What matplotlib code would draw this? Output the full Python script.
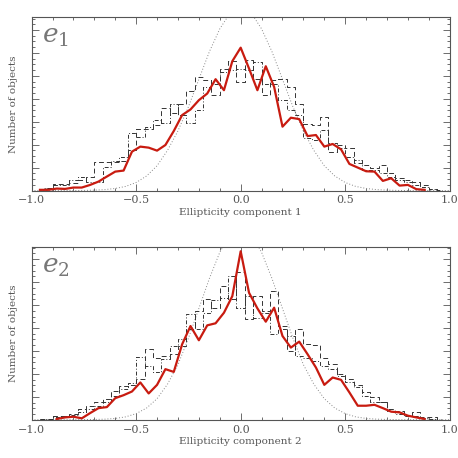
import numpy as np
import matplotlib
matplotlib.use("Agg")
import matplotlib.pyplot as plt
from matplotlib.ticker import MultipleLocator, NullFormatter

# bin centres of the histograms (step 0.04)
hist_x = [round(-0.96 + 0.04 * i, 2) for i in range(49)]

# ---- panel 1 : e1 ----
e1_dash = [1.2, 2.6, 5.5, 5.5, 7.0, 9.3, 12.2, 24.6, 24.6, 24.6, 25.8, 35.4, 53.3,
           53.3, 57.1, 71.6, 67.2, 75.9, 87.0, 99.1, 96.2, 83.2, 106.4, 112.8, 94.8,
           113.6, 97.7, 83.2, 96.2, 97.7, 90.4, 75.9, 58.0, 57.1, 63.8, 33.9, 39.7,
           36.8, 23.8, 22.3, 19.4, 22.3, 15.1, 10.7, 9.3, 7.8, 4.9, 1.2, 0.3]
e1_dashdot = [0.9, 2.6, 4.9, 4.9, 9.3, 12.2, 7.8, 7.8, 20.9, 25.8, 29.6, 49.9, 47.0,
              55.7, 61.4, 58.6, 75.9, 65.8, 58.6, 70.1, 90.4, 93.3, 103.5, 104.9, 106.4,
              104.9, 112.2, 93.3, 93.3, 78.8, 70.1, 65.8, 45.5, 44.1, 52.8, 41.2, 36.8,
              29.6, 26.7, 18.0, 18.0, 15.1, 12.2, 9.3, 7.8, 4.9, 2.9, 1.2, 0.3]
line_x = [round(-0.96 + 0.04 * i, 2) for i in range(47)]
e1_red = [0.6, 0.6, 1.7, 1.4, 2.6, 2.6, 4.9, 7.8, 12.2, 16.5, 17.4, 33.9, 38.3, 37.4,
          34.8, 39.7, 51.9, 65.8, 70.7, 78.8, 84.6, 97.1, 87.5, 112.8, 124.6, 106.4,
          87.5, 108.4, 90.4, 55.7, 63.5, 62.3, 47.5, 48.4, 38.3, 40.6, 35.9, 23.2, 20.0,
          16.8, 16.5, 8.4, 10.7, 4.3, 4.9, 1.2, 0.6]

# dotted reference curve, read every 0.05
ref_x = [round(-1.0 + 0.05 * i, 2) for i in range(41)]
e1_ref = [0.0, 0.0, 0.0, 0.0, 0.0, 0.1, 0.35, 0.8, 1.8, 3.6, 7.0, 12.7, 21.6, 35, 52,
          73, 97, 121, 141, 155, 160, 155, 141, 121, 97, 73, 52, 35, 21.6, 12.7, 7.0,
          3.6, 1.8, 0.8, 0.35, 0.1, 0.0, 0.0, 0.0, 0.0, 0.0]

# ---- panel 2 : e2 ----
e2_dash = [0.3, 0.6, 3.5, 3.5, 4.9, 9.3, 11.6, 15.1, 18.0, 25.2, 29.6, 30.1, 35.4,
           62.0, 54.2, 55.7, 57.1, 64.3, 78.8, 94.8, 105.5, 97.7, 116.5, 104.9, 128.7,
           87.5, 107.8, 94.8, 112.2, 81.7, 60.0, 78.8, 65.8, 64.9, 54.2, 48.4, 39.7,
           35.4, 30.1, 23.8, 19.4, 15.1, 9.3, 7.8, 3.5, 6.4, 2.0, 2.0, 0.3]
e2_dashdot = [0.3, 0.3, 2.0, 2.9, 4.1, 6.4, 9.3, 12.2, 15.1, 20.9, 26.7, 31.9, 54.8,
              47.0, 41.2, 52.8, 64.3, 70.1, 91.9, 78.8, 93.3, 104.3, 106.4, 125.2, 97.7,
              107.8, 89.0, 93.3, 74.5, 78.8, 73.0, 55.7, 54.2, 51.3, 47.0, 44.1, 38.3,
              32.5, 28.4, 20.9, 15.7, 15.1, 7.8, 4.9, 2.9, 3.5, 1.2, 0.6, 0.0]
line_x2 = [round(-0.88 + 0.04 * i, 2) for i in range(45)]
e2_red = [0.6, 2.0, 2.6, 1.2, 5.8, 10.1, 11.0, 18.8, 21.4, 24.6, 32.5, 22.9, 30.4,
          44.1, 41.7, 65.8, 81.7, 69.3, 82.3, 84.1, 93.3, 107.8, 146.9, 110.7, 97.1,
          85.5, 97.7, 73.0, 62.9, 68.1, 57.1, 45.5, 30.4, 36.8, 34.8, 23.8, 12.2, 12.2,
          13.0, 10.1, 7.0, 6.4, 3.5, 2.0, 0.6]
e2_ref = [0.0, 0.0, 0.0, 0.0, 0.0, 0.1, 0.2, 0.5, 1.1, 2.5, 5.3, 10.2, 18.3, 31, 48,
          71, 97, 123, 146, 162, 168, 162, 146, 123, 97, 71, 48, 31, 18.3, 10.2, 5.3,
          2.5, 1.1, 0.5, 0.2, 0.1, 0.0, 0.0, 0.0, 0.0, 0.0]

grey = '#555555'
plt.rcParams['font.family'] = ['DejaVu Serif']
plt.rcParams['mathtext.fontset'] = 'dejavuserif'

fig = plt.figure(figsize=(4.58, 4.58), dpi=100)
ax1 = fig.add_axes([0.069, 0.584, 0.913, 0.378])
ax2 = fig.add_axes([0.069, 0.0836, 0.913, 0.378])

panels = [
    (ax1, e1_dash, e1_dashdot, line_x, e1_red, e1_ref, '$e_1$', 'Ellipticity component 1'),
    (ax2, e2_dash, e2_dashdot, line_x2, e2_red, e2_ref, '$e_2$', 'Ellipticity component 2'),
]

for ax, hd, hdd, lx, red, ref, tag, xlab in panels:
    ax.plot(ref_x, ref, color='#888888', linestyle=(0, (1, 2)), linewidth=0.7)
    ax.step(hist_x, hd, where='mid', color='#333333', linestyle=(0, (5, 3)), linewidth=0.7)
    ax.step(hist_x, hdd, where='mid', color='#333333', linestyle=(0, (4, 2, 1, 2)), linewidth=0.7)
    ax.plot(lx, red, color='#c81b10', linewidth=1.6)

    ax.set_xlim(-1.0, 1.0)
    ax.set_ylim(0, 151)
    ax.xaxis.set_major_locator(MultipleLocator(0.5))
    ax.xaxis.set_minor_locator(MultipleLocator(0.1))
    ax.yaxis.set_major_locator(MultipleLocator(20))
    ax.yaxis.set_minor_locator(MultipleLocator(5))
    ax.yaxis.set_major_formatter(NullFormatter())
    ax.set_xticks([-1.0, -0.5, 0.0, 0.5, 1.0])
    ax.set_xticklabels(['\u22121.0', '\u22120.5', '0.0', '0.5', '1.0'])
    ax.tick_params(which='both', direction='in', top=True, right=True, colors=grey,
                   labelsize=8, width=0.6)
    ax.tick_params(which='major', length=5)
    ax.tick_params(which='minor', length=2.5)
    for s in ax.spines.values():
        s.set_color(grey)
        s.set_linewidth(0.8)

    ax.set_xlabel(xlab, fontsize=7.5, color=grey, labelpad=2)
    ax.set_ylabel('Number of objects', fontsize=7.5, color=grey, labelpad=6)
    ax.text(0.025, 0.96, tag, transform=ax.transAxes, fontsize=19, color='#777777',
            ha='left', va='top')

plt.savefig('out.png', dpi=100)
